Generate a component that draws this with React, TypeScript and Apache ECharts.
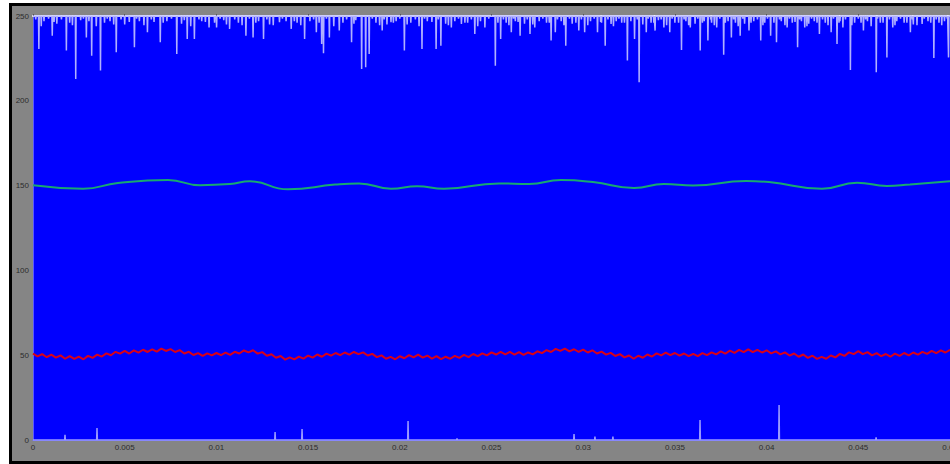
import React, { useEffect, useRef } from "react";
import * as echarts from "echarts";

// x tick labels (seconds)
const X_TICKS = [0, 0.005, 0.01, 0.015, 0.02, 0.025, 0.03, 0.035, 0.04, 0.045, 0.05];
const Y_TICKS = [0, 50, 100, 150, 200, 250];

// Green (smooth) trace: [time ms, value]
const GREEN_T = [0, 2.73, 4.63, 7.36, 9.11, 10.74, 11.83, 13.9, 16.47, 17.78, 19.52, 20.94, 22.41, 25.41, 27.05, 28.79, 30.53, 32.77, 34.4, 35.99, 38.88, 40.13, 43.02, 44.93, 46.56, 47.82, 50];
const GREEN_V = [150.2, 148.2, 151.5, 153.3, 150.2, 150.9, 152.5, 147.8, 150.6, 151.3, 148.2, 149.6, 148.2, 151.3, 150.9, 153.3, 152.1, 148.6, 150.9, 150.0, 152.7, 152.1, 148.2, 151.7, 149.8, 150.7, 152.5];

// Red (noisy) trace sampled every 0.25 ms from 0 to 50 ms
const RED_STEP_MS = 0.25;
const RED_V = [
  50.9, 49.3, 50.6, 48.8, 50.3, 48.6, 49.9, 47.9, 49.5, 47.8, 49.2, 47.6,
  49.6, 48.4, 50.3, 49.2, 51.1, 50.0, 52.0, 50.9,
  52.5, 51.0, 52.8, 51.5, 53.2, 51.9, 53.4, 52.1, 53.9, 52.5, 53.6,
  51.9, 53.0, 51.0, 52.0, 50.1, 51.2,
  49.6, 51.1, 49.9, 51.3, 50.0, 51.5,
  50.2, 52.0, 51.0, 52.8, 51.7,
  52.9, 50.9, 51.8, 49.7, 50.6, 48.5, 49.5, 47.4,
  48.7, 47.5, 49.2, 48.0, 49.8, 48.6, 50.4, 49.1, 50.9, 49.7, 51.3,
  50.0, 51.6, 50.3, 51.9, 50.6,
  51.7, 49.8, 50.8, 48.9, 49.9, 47.9, 49.0,
  47.6, 49.4, 48.2, 50.0, 48.7,
  50.3, 48.6, 49.8, 48.0, 49.4, 47.7,
  49.1, 47.9, 49.6, 48.4, 50.2, 48.9, 50.7, 49.4, 51.1, 49.9, 51.7, 50.4,
  52.0, 50.5, 51.9, 50.4, 51.8, 50.2, 51.6,
  50.5, 52.3, 51.2, 53.0, 51.9, 53.7, 52.5,
  53.9, 52.3, 53.5, 51.9, 53.3, 51.6, 52.9,
  51.0, 52.1, 50.3, 51.4, 49.5, 50.6, 48.7, 49.8, 47.9,
  49.7, 48.5, 50.4, 49.2, 51.1, 49.9,
  51.5, 50.0, 51.3, 49.7, 51.0, 49.4, 50.8,
  49.5, 51.2, 50.0, 51.7, 50.5, 52.2, 50.9, 52.7, 51.4, 53.1, 51.8,
  53.4, 51.8, 53.2, 51.6, 52.9,
  51.1, 52.3, 50.5, 51.7, 49.8, 51.0, 49.1, 50.4, 48.4, 49.7, 47.8, 49.0,
  47.9, 49.8, 48.7, 50.8, 49.6, 51.7, 50.6,
  52.4, 50.6, 51.8, 49.9, 51.2, 49.4, 50.7,
  49.1, 50.9, 49.6, 51.3, 49.9,
  51.6, 50.3, 52.0, 50.8, 52.5, 51.2, 52.9, 51.6, 53.2,
];

// Top trace: saturated at 250 with downward spikes [time ms, value]
const TOP_BASE = 250;
const TOP_SPIKES: [number, number][] = [
  [0.32, 230.6], [1.05, 238.4], [1.82, 229.6], [2.33, 212.9], [2.91, 237.4], [3.2, 226.6], [3.68, 217.8],
  [4.54, 228.6], [5.53, 231.6], [6.24, 240.4], [6.94, 234.5], [7.84, 227.6], [8.41, 236.5], [8.8, 236.5],
  [9.6, 243.3], [10.01, 243.3], [10.72, 242.4], [11.61, 238.4], [12.0, 237.4], [12.57, 236.5], [13.44, 246.3],
  [14.08, 242.4], [14.81, 236.5], [15.45, 240.4], [15.74, 233.5], [15.84, 228.0], [16.16, 237.4], [16.7, 241.4],
  [17.37, 234.5], [17.92, 218.8], [18.14, 219.8], [18.33, 227.6], [19.04, 241.4], [19.52, 246.3], [20.25, 229.6],
  [21.21, 230.6], [21.98, 230.6], [22.24, 232.5], [22.81, 243.3], [23.36, 245.3], [24.09, 239.4], [24.64, 243.3],
  [25.21, 220.7], [25.5, 236.5], [26.08, 240.4], [26.56, 238.4], [27.1, 239.4], [27.36, 243.3], [28.25, 235.5],
  [28.48, 240.4], [29.05, 232.5], [29.76, 241.4], [30.08, 240.4], [30.78, 240.4], [31.2, 232.5], [31.52, 245.3],
  [32.41, 223.7], [32.8, 236.5], [33.05, 210.9], [33.44, 240.4], [33.92, 241.4], [34.4, 243.3], [34.72, 240.4],
  [35.36, 230.0], [35.84, 243.3], [36.38, 229.6], [36.8, 235.5], [37.28, 243.3], [37.66, 227.2], [38.08, 237.4],
  [38.56, 238.4], [39.04, 241.4], [39.68, 235.5], [40.22, 238.4], [40.54, 234.5], [41.12, 243.3], [41.69, 231.6],
  [42.08, 243.3], [42.88, 239.4], [43.52, 240.4], [43.84, 233.5], [44.16, 243.3], [44.57, 218.2], [45.28, 241.4],
  [45.98, 216.8], [46.56, 225.6], [46.88, 243.3], [47.84, 240.4], [48.48, 245.3], [49.12, 225.3], [49.92, 225.6],
  [0.6, 247], [1.3, 245.5], [2.0, 246], [2.6, 247.5], [3.9, 246], [4.2, 247], [5.0, 245], [5.8, 247], [6.6, 246.5],
  [7.3, 247], [8.1, 245.5], [9.2, 247], [9.9, 246], [10.4, 247.5], [11.2, 246], [12.3, 247], [12.9, 245], [13.8, 247],
  [14.4, 246], [15.1, 247], [16.9, 246], [17.6, 247.5], [18.7, 246], [19.3, 245], [19.8, 247], [20.6, 246], [21.5, 247],
  [22.5, 245.5], [23.0, 247], [23.7, 246], [24.4, 247], [25.8, 246], [26.3, 247], [26.8, 245.5], [27.6, 247], [28.0, 246],
  [28.8, 247], [29.4, 245.5], [30.4, 247], [31.0, 246], [31.8, 247], [32.1, 246], [32.6, 247], [33.7, 246], [34.1, 247.5],
  [35.0, 246], [35.6, 247], [36.1, 245.5], [36.6, 247], [37.0, 246], [37.9, 247], [38.3, 246], [38.8, 245.5], [39.3, 247],
  [39.9, 246], [40.8, 247], [41.4, 246], [41.9, 247], [42.3, 245.5], [42.6, 247], [43.2, 246], [44.0, 247], [44.8, 246],
  [45.5, 247], [46.2, 246], [47.1, 247], [47.5, 246], [48.0, 245], [48.8, 247], [49.4, 246], [49.7, 247],
  [0.15, 248], [0.45, 244], [0.85, 248.5], [1.15, 246.5], [1.55, 248], [2.15, 244.5], [2.75, 248.5], [3.05, 247],
  [3.45, 244], [4.05, 248.5], [4.4, 245], [4.8, 248], [5.25, 246.5], [5.65, 248.5], [6.05, 244.5], [6.45, 248],
  [7.1, 246], [7.55, 248.5], [8.25, 247.5], [8.6, 244], [9.05, 248], [9.4, 246.5], [10.2, 248.5], [10.55, 245],
  [11.0, 248], [11.4, 244.5], [11.8, 248.5], [12.15, 246], [12.75, 248], [13.1, 244.5], [13.6, 248.5], [14.25, 247],
  [14.6, 244.5], [15.3, 248], [15.6, 246], [16.0, 248.5], [16.4, 244], [17.1, 248], [17.5, 245.5], [18.5, 248.5],
  [18.9, 244.5], [19.15, 248], [19.65, 246], [20.0, 248.5], [20.4, 245], [20.85, 248], [21.05, 244], [21.35, 248.5],
  [21.75, 246.5], [22.1, 248], [22.65, 244.5], [23.2, 248.5], [23.55, 246], [23.9, 248], [24.25, 244], [24.85, 248.5],
  [25.35, 246], [25.65, 248], [25.95, 244.5], [26.2, 248.5], [26.45, 246.5], [26.95, 248], [27.25, 245], [27.8, 248.5],
  [28.15, 246], [28.6, 248], [28.95, 244.5], [29.25, 248.5], [29.6, 246], [29.9, 248], [30.25, 244.5], [30.6, 248.5],
  [30.95, 246.5], [31.35, 248], [31.65, 244], [31.95, 248.5], [32.25, 246], [32.95, 248], [33.25, 245], [33.55, 248.5],
  [33.85, 246], [34.25, 248], [34.55, 244.5], [34.85, 248.5], [35.2, 246], [35.5, 248], [35.75, 244.5], [36.25, 248.5],
  [36.5, 246], [36.95, 248], [37.15, 244.5], [37.45, 248.5], [37.75, 246], [38.2, 248], [38.45, 244], [38.7, 248.5],
  [39.15, 246], [39.5, 248], [39.8, 244.5], [40.05, 248.5], [40.4, 246], [40.7, 248], [41.0, 244.5], [41.25, 248.5],
  [41.55, 246.5], [41.8, 248], [42.2, 244], [42.45, 248.5], [42.75, 246], [43.05, 248], [43.35, 244.5], [43.65, 248.5],
  [43.95, 246], [44.3, 248], [44.65, 244.5], [45.0, 248.5], [45.15, 246], [45.4, 248], [45.7, 244], [46.05, 248.5],
  [46.35, 246], [46.7, 248], [47.0, 244.5], [47.3, 248.5], [47.65, 246], [47.95, 248], [48.2, 244.5], [48.6, 248.5],
  [48.95, 246], [49.25, 248], [49.55, 244.5], [49.85, 248.5],
];

// Bottom trace: near 0 with a few upward spikes [time ms, value]
const BOTTOM_BASE = 0;
const BOTTOM_SPIKES: [number, number][] = [
  [1.745, 3], [3.49, 7], [13.2, 4.7], [14.67, 6.5], [20.45, 11.2], [23.12, 1], [29.5, 3.5],
  [30.64, 2], [31.62, 2], [36.37, 11.8], [40.68, 20.6], [45.97, 1.5],
];

function spikeLine(base: number, spikes: [number, number][]) {
  const sorted = [...spikes].sort((a, b) => a[0] - b[0]);
  const eps = 0.02;
  const out: number[][] = [[0, base]];
  for (const [t, v] of sorted) {
    out.push([(t - eps) / 1000, base]);
    out.push([t / 1000, v]);
    out.push([(t + eps) / 1000, base]);
  }
  out.push([0.05, base]);
  return out;
}

export default function App() {
  const ref = useRef<HTMLDivElement>(null);
  useEffect(() => {
    if (!ref.current) return;
    const chart = echarts.init(ref.current, null, { renderer: "svg" });
    const labelStyle = { fontSize: 8, color: "#2c2c2c", fontFamily: "Liberation Sans, Arial, sans-serif" };
    chart.setOption({
      animation: false,
      grid: {
        left: 33, top: 16, width: 917, height: 424,
        show: true, backgroundColor: "#0000ff", borderWidth: 0,
        containLabel: false, outerBoundsMode: "none",
      },
      xAxis: [
        {
          type: "value",
          min: X_TICKS[0],
          max: X_TICKS[X_TICKS.length - 1],
          interval: 0.005,
          axisLine: { show: true, lineStyle: { color: "#6f6fff", width: 1 } },
          axisTick: { show: false },
          splitLine: { show: false },
          axisLabel: {
            ...labelStyle,
            margin: 3,
            showMaxLabel: true,
            hideOverlap: false,
            formatter: (v: number) => String(parseFloat(v.toFixed(3))),
          },
        },
        {
          type: "value",
          position: "top",
          min: X_TICKS[0],
          max: X_TICKS[X_TICKS.length - 1],
          interval: 0.005,
          axisLine: { show: true, lineStyle: { color: "#f4f4ff", width: 2 } },
          axisTick: { show: true, length: 2, lineStyle: { color: "#555555" } },
          axisLabel: { show: false },
          splitLine: { show: false },
        },
      ],
      yAxis: {
        type: "value",
        min: Y_TICKS[0],
        max: Y_TICKS[Y_TICKS.length - 1],
        interval: 50,
        axisLine: { show: true, lineStyle: { color: "#5a5aff" } },
        axisTick: { show: false },
        splitLine: { show: false },
        axisLabel: { ...labelStyle, margin: 4 },
      },
      series: [
        {
          type: "line",
          data: spikeLine(TOP_BASE, TOP_SPIKES),
          showSymbol: false,
          lineStyle: { color: "#b0b0ff", width: 1.5 },
          silent: true,
        },
        {
          type: "line",
          data: spikeLine(BOTTOM_BASE, BOTTOM_SPIKES),
          showSymbol: false,
          lineStyle: { color: "#9a9aff", width: 1.5 },
          silent: true,
        },
        {
          type: "line",
          data: GREEN_T.map((t, i) => [t / 1000, GREEN_V[i]]),
          smooth: 0.5,
          showSymbol: false,
          lineStyle: { color: "#18a870", width: 2 },
          silent: true,
        },
        {
          type: "line",
          data: RED_V.map((v, i) => [(i * RED_STEP_MS) / 1000, v]),
          showSymbol: false,
          lineStyle: { color: "#d80018", width: 2 },
          silent: true,
        },
      ],
    });
    return () => chart.dispose();
  }, []);

  return (
    <div style={{ position: "fixed", left: 0, top: 0, width: 950, height: 464, background: "#ffffff", overflow: "hidden" }}>
      <div style={{ position: "absolute", left: 9, top: 3, width: 960, height: 470, background: "#000000" }} />
      <div style={{ position: "absolute", left: 12, top: 6, width: 960, height: 455, background: "#858585" }} />
      <div ref={ref} style={{ position: "absolute", left: 0, top: 0, width: 950, height: 464 }} />
    </div>
  );
}
